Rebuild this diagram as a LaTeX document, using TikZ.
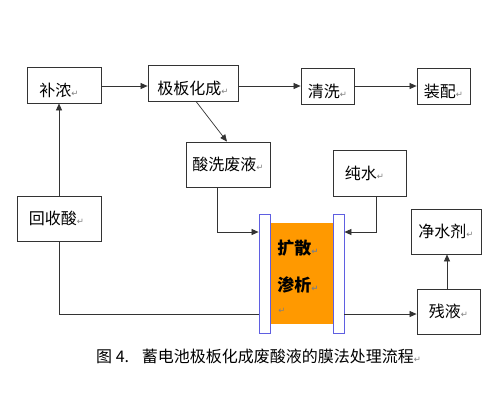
\documentclass[tikz,border=0pt]{standalone}
\usepackage{fontspec}
\setmainfont{Noto Sans CJK SC}
\newfontfamily\symfont{DejaVu Sans}
\usetikzlibrary{arrows.meta}
\definecolor{memblue}{RGB}{95,95,225}
\definecolor{coreorange}{RGB}{255,153,0}
\newcommand{\pmark}{{\symfont\fontsize{8.5}{8.5}\selectfont\textcolor{black!50}{↵}}}
\tikzset{
  procbox/.style={draw=black!80, line width=0.8pt, inner sep=0pt, font=\fontsize{16}{16}\selectfont},
  toprow/.style={procbox, minimum height=36pt, text height=22pt, text depth=0pt},
  midrow/.style={procbox, minimum height=45pt},
  membrane/.style={draw=memblue, line width=0.8pt, fill=white, minimum width=11pt, minimum height=119pt, inner sep=0pt},
  memtext/.style={font=\fontsize{17}{17}\selectfont\bfseries, inner sep=0pt},
  flow/.style={draw=black!80, line width=0.7pt},
}
\begin{document}
\begin{tikzpicture}[x=1pt, y=-1pt, >={Triangle[length=7pt,width=6pt]}]
        \useasboundingbox[fill=white] (0,0) rectangle (500,400);

        % top row
        \node[toprow, minimum width=74pt] (bunong) at (64, 85) {补浓\pmark\hspace*{10pt}};
        \node[toprow, minimum width=90pt] (jiban) at (193, 83) {极板化成\pmark};
        \node[toprow, minimum width=53pt] (qingxi) at (327.5, 86) {清洗\pmark};
        \node[toprow, minimum width=53pt] (zhuangpei) at (443.5, 86) {装配\pmark};

        % middle boxes
        \node[midrow, minimum width=84pt] (suanxi) at (228, 164.5) {酸洗废液\pmark};
        \node[midrow, minimum width=73pt, minimum height=46pt] (chunshui) at (369.5, 173) {纯水\pmark\hspace*{10pt}};
        \node[midrow, minimum width=84pt] (huishou) at (59, 218.5) {回收酸\pmark\hspace*{5pt}};
        \node[midrow, minimum width=70pt] (jingshui) at (446, 231.5) {净水剂\pmark};
        \node[midrow, minimum width=63pt] (canye) at (448.5, 311.5) {残液\pmark};

        % dialysis unit
        \node[fill=coreorange, minimum width=63pt, minimum height=101pt, inner sep=0pt] (core) at (301.5, 273.5) {};
        \node[membrane] (lmem) at (264.5, 273.5) {};
        \node[membrane] (rmem) at (338.5, 273.5) {};
        \node[memtext] (kuosan) at (298, 248) {扩散\pmark};
        \node[memtext] (shenxi) at (298, 285) {渗析\pmark};
        \node[inner sep=0pt] (blank) at (282, 311) {\pmark};

        \node[anchor=west, inner sep=0pt, font=\fontsize{16}{16}\selectfont] (caption) at (96, 356) {图 4.\hspace{0.8em}蓄电池极板化成废酸液的膜法处理流程\pmark};

        \draw[flow, ->] (bunong.east |- 0,86) -- (jiban.west |- 0,86);
        \draw[flow, ->] (jiban.east |- 0,86) -- (qingxi.west |- 0,86);
        \draw[flow, ->] (qingxi.east) -- (zhuangpei.west);
        \draw[flow, ->] ([xshift=3pt]jiban.south) -- ([xshift=-1pt]suanxi.north);
        \draw[flow, ->] ([xshift=-11pt]suanxi.south) |- (lmem.west |- 0,232);
        \draw[flow, ->] ([xshift=6.5pt]chunshui.south) |- (rmem.east |- 0,232);
        \draw[flow, ->] (huishou.north) -- (huishou.north |- bunong.south);
        \draw[flow] (huishou.south) |- (lmem.west |- 0,314);
        \draw[flow, ->] (rmem.east |- 0,314) -- (canye.west |- 0,314);
        \draw[flow, ->] ([xshift=-1.5pt]canye.north) -- ([xshift=-1.5pt]canye.north |- jingshui.south);
    \end{tikzpicture}
\end{document}
